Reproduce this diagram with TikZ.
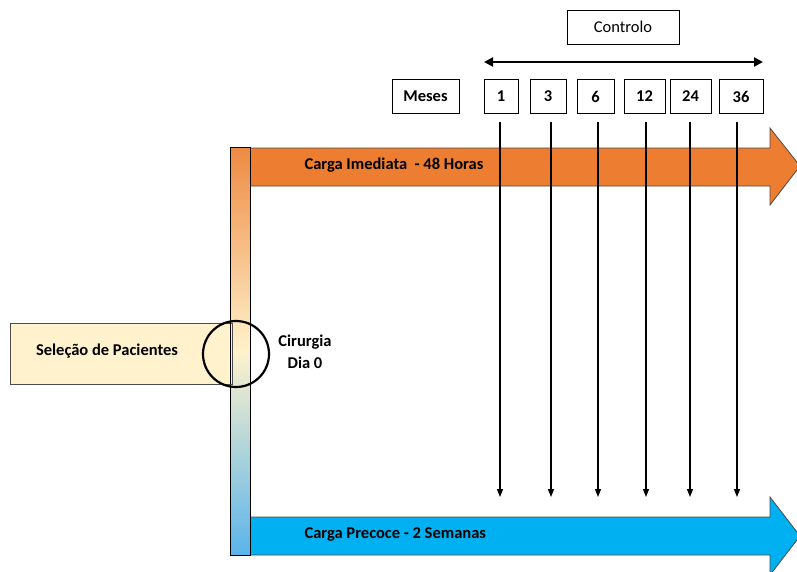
\documentclass[tikz,border=0pt]{standalone}
\usepackage{fontspec}
\setmainfont{Carlito}
\usetikzlibrary{arrows.meta}
\definecolor{orangeA}{HTML}{ED7D31}
\definecolor{blueA}{HTML}{00B0F0}
\definecolor{creamA}{HTML}{FFF2CC}
\definecolor{barTop}{HTML}{EE8A42}
\definecolor{barBot}{HTML}{5AB4EA}
\tikzset{
  lbl/.style={font=\fontsize{16.5}{19}\selectfont\bfseries, text=black},
  box/.style={draw=black, line width=0.9pt, fill=white, minimum height=34pt, inner sep=0pt, lbl},
  band/.style={line width=0.8pt},
  tick/.style={line width=1.1pt, -{Triangle[length=8pt,width=6pt]}},
}
\begin{document}
\begin{tikzpicture}[x=1pt,y=-1pt]
\useasboundingbox (0,0) rectangle (797,571);
\fill[white] (0,0) rectangle (797,571);
% top orange arrow
\draw[band, draw=gray!60!black, fill=orangeA] (250,148) -- (770,148) -- (770,128) -- (800,166) -- (770,205) -- (770,186) -- (250,186) -- cycle;
% bottom blue arrow
\draw[band, draw=gray!60!black, fill=blueA] (250,517) -- (770,517) -- (770,497) -- (800,536) -- (770,575) -- (770,555) -- (250,555) -- cycle;
% gradient bar
\shade[top color=barTop, bottom color=barBot, middle color=creamA] (230,147) rectangle (250,555);
\draw[line width=0.8pt, black] (230,147) rectangle (250,555);
% selection box
\node[draw=gray!60!black, line width=0.8pt, fill=creamA, minimum width=222pt, minimum height=61pt, inner sep=0pt, anchor=north west, lbl] (sel) at (10,323) {};
\node[lbl] (seltxt) at (107,351) {Seleção de Pacientes};
\draw[line width=0.8pt, black] (230,323) -- (230,384);
% circle
\node[draw=black, line width=2.2pt, circle, minimum size=66pt, inner sep=0pt] (circ) at (236,354) {};
\node[lbl, align=center, font=\fontsize{16.5}{22}\selectfont\bfseries] (cir) at (305,352) {Cirurgia\\Dia 0};
% band labels
\node[lbl, anchor=west] (imed) at (301,165) {Carga Imediata\ \ - 48 Horas};
\node[lbl, anchor=west] (prec) at (301,534) {Carga Precoce - 2 Semanas};
% top boxes
\node[box, minimum width=112pt, font=\fontsize{16.5}{19}\selectfont] (ctrl) at (623,27) {Controlo};
\node[box, minimum width=67pt] (meses) at (425.5,96) {Meses};
\node[box, minimum width=34pt] (m1) at (501,96.5) {1};
\node[box, minimum width=36pt] (m3) at (548,96.5) {3};
\node[box, minimum width=37pt] (m6) at (595.5,96.5) {6};
\node[box, minimum width=41pt] (m12) at (644.5,96) {12};
\node[box, minimum width=41pt] (m24) at (690.5,96.5) {24};
\node[box, minimum width=44pt] (m36) at (741,96.5) {36};
% double arrow
\coordinate (dl) at (484,62);
\coordinate (dr) at (763,62);
\draw[line width=2.2pt, {Triangle[length=9pt,width=9pt]}-{Triangle[length=9pt,width=9pt]}] (dl) -- (dr);
% vertical arrows
\foreach \n/\x in {m1/500, m3/551, m6/598, m12/646, m24/690, m36/737}{
  \coordinate (\n t) at (\x,122);
  \coordinate (\n b) at (\x,497);
  \draw[tick] (\n t) -- (\n b);
}
\end{tikzpicture}
\end{document}
